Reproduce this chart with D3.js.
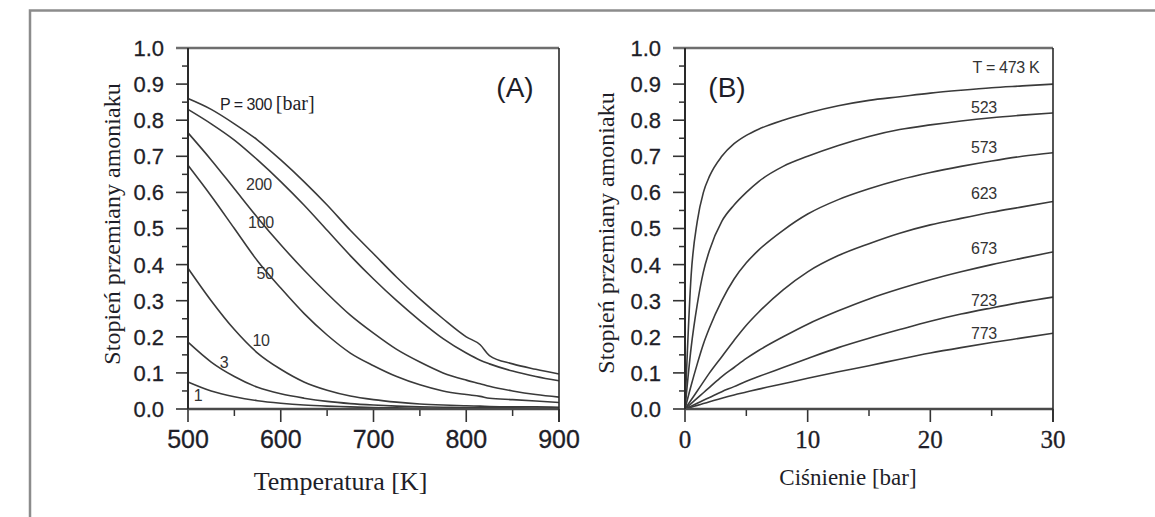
<!DOCTYPE html>
<html>
<head>
<meta charset="utf-8">
<script src="https://cdn.jsdelivr.net/npm/d3@7"></script>
<style>
  body { margin: 0; background: #fff; }
  svg text { fill: #1e1e28; }
</style>
</head>
<body>
<svg id="chart" width="1155" height="517"></svg>
<script>
// Panel A: conversion vs temperature, one curve per pressure
const temperatures = [500, 525, 550, 575, 600, 625, 650, 675, 700, 725, 750, 775, 800, 815, 825, 850, 875, 900];
const conv300 = [0.86, 0.83, 0.79, 0.745, 0.69, 0.63, 0.565, 0.495, 0.43, 0.365, 0.305, 0.25, 0.20, 0.178, 0.148, 0.125, 0.11, 0.097];
const conv200 = [0.83, 0.79, 0.745, 0.69, 0.63, 0.565, 0.495, 0.425, 0.36, 0.30, 0.245, 0.195, 0.155, 0.135, 0.125, 0.105, 0.09, 0.078];
const conv100 = [0.765, 0.69, 0.61, 0.53, 0.455, 0.385, 0.32, 0.26, 0.21, 0.165, 0.13, 0.10, 0.08, 0.07, 0.063, 0.05, 0.04, 0.033];
const conv50  = [0.675, 0.59, 0.50, 0.41, 0.335, 0.265, 0.205, 0.155, 0.12, 0.09, 0.067, 0.05, 0.04, 0.035, 0.03, 0.026, 0.022, 0.018];
const conv10  = [0.39, 0.30, 0.22, 0.155, 0.11, 0.075, 0.052, 0.036, 0.026, 0.019, 0.014, 0.011, 0.009, 0.008, 0.007, 0.006, 0.006, 0.005];
const conv3   = [0.185, 0.13, 0.09, 0.06, 0.042, 0.03, 0.021, 0.015, 0.011, 0.008, 0.006, 0.005, 0.004, 0.004, 0.003, 0.003, 0.002, 0.002];
const conv1   = [0.075, 0.05, 0.034, 0.023, 0.016, 0.011, 0.008, 0.006, 0.004, 0.003, 0.002, 0.002, 0.001, 0.001, 0.001, 0.001, 0.001, 0.001];
const pressureLabels = ["P = 300", "200", "100", "50", "10", "3", "1"];

// Panel B: conversion vs pressure, one curve per temperature
const pressures = [0, 0.5, 1, 1.5, 2, 3, 4, 5, 6, 8, 10, 12.5, 15, 17.5, 20, 22.5, 25, 27.5, 30];
const conv473 = [0, 0.37, 0.52, 0.60, 0.645, 0.70, 0.735, 0.758, 0.775, 0.80, 0.82, 0.84, 0.855, 0.865, 0.875, 0.883, 0.89, 0.895, 0.90];
const conv523 = [0, 0.17, 0.29, 0.38, 0.44, 0.52, 0.565, 0.60, 0.63, 0.672, 0.70, 0.73, 0.755, 0.774, 0.787, 0.798, 0.807, 0.814, 0.82];
const conv573 = [0, 0.065, 0.125, 0.18, 0.225, 0.30, 0.36, 0.405, 0.44, 0.495, 0.54, 0.58, 0.61, 0.635, 0.655, 0.672, 0.687, 0.70, 0.71];
const conv623 = [0, 0.025, 0.05, 0.075, 0.10, 0.145, 0.19, 0.232, 0.268, 0.33, 0.38, 0.425, 0.458, 0.487, 0.51, 0.528, 0.545, 0.56, 0.575];
const conv673 = [0, 0.015, 0.03, 0.045, 0.06, 0.09, 0.115, 0.14, 0.162, 0.20, 0.235, 0.272, 0.305, 0.333, 0.358, 0.38, 0.40, 0.418, 0.435];
const conv723 = [0, 0.008, 0.016, 0.024, 0.032, 0.048, 0.062, 0.077, 0.09, 0.115, 0.14, 0.17, 0.196, 0.22, 0.243, 0.263, 0.28, 0.296, 0.31];
const conv773 = [0, 0.005, 0.01, 0.015, 0.02, 0.03, 0.039, 0.047, 0.055, 0.07, 0.085, 0.103, 0.12, 0.138, 0.155, 0.17, 0.184, 0.197, 0.21];
const temperatureLabels = ["T = 473 K", "523", "573", "623", "673", "723", "773"];

const yTicks = [0, 0.1, 0.2, 0.3, 0.4, 0.5, 0.6, 0.7, 0.8, 0.9, 1.0];

const svg = d3.select("#chart");

// outer page frame (top + left edges only)
svg.append("path")
    .attr("d", "M30,1000 L30,10.5 L1155,10.5")
    .attr("fill", "none")
    .attr("stroke", "#8c8c8c")
    .attr("stroke-width", 2.5);

function drawPanel(opts) {
    const { x, y, xTicks, xMinor, xFont, xFontSize, seriesX, series, labels, labelPos, tag, tagPos, xTitle, xTitleY, xTitleSize, yTitleX, yTitleY } = opts;
    const [x0, x1] = x.range();
    const [y0, y1] = y.range();
    const g = svg.append("g");

    // minor y ticks
    g.selectAll(".ymin").data(d3.range(0.05, 1, 0.1)).join("line")
        .attr("x1", x0 - 6).attr("x2", x0)
        .attr("y1", d => y(d)).attr("y2", d => y(d))
        .attr("stroke", "#333").attr("stroke-width", 1.5);
    // major y ticks
    g.selectAll(".ymaj").data(yTicks).join("line")
        .attr("x1", x0 - 12).attr("x2", x0)
        .attr("y1", d => y(d)).attr("y2", d => y(d))
        .attr("stroke", "#333").attr("stroke-width", 1.6);
    g.selectAll(".ylab").data(yTicks).join("text")
        .attr("x", x0 - 24).attr("y", d => y(d))
        .attr("dy", "0.36em")
        .attr("text-anchor", "end")
        .style("font-family", "'Liberation Sans', Arial, sans-serif")
        .style("font-size", "22px")
        .style("stroke", "#1e1e28").style("stroke-width", 0.3)
        .text(d => d.toFixed(1));

    // x ticks
    g.selectAll(".xmin").data(xMinor).join("line")
        .attr("x1", d => x(d)).attr("x2", d => x(d))
        .attr("y1", y0).attr("y2", y0 + 7)
        .attr("stroke", "#333").attr("stroke-width", 1.5);
    g.selectAll(".xmaj").data(xTicks).join("line")
        .attr("x1", d => x(d)).attr("x2", d => x(d))
        .attr("y1", y0).attr("y2", y0 + 13)
        .attr("stroke", "#333").attr("stroke-width", 1.6);
    g.selectAll(".xlab").data(xTicks).join("text")
        .attr("x", d => x(d)).attr("y", 448)
        .attr("text-anchor", "middle")
        .style("font-family", xFont)
        .style("font-size", xFontSize)
        .style("stroke", "#1e1e28").style("stroke-width", 0.3)
        .text(d => d);

    // curves
    const line = d3.line()
        .x((d, i) => x(seriesX[i]))
        .y(d => y(d))
        .curve(d3.curveMonotoneX);
    g.selectAll(".curve").data(series).join("path")
        .attr("d", line)
        .attr("fill", "none")
        .attr("stroke", "#3a3a3a")
        .attr("stroke-width", 1.6);

    // frame
    g.append("line").attr("x1", x0 - 12).attr("x2", x1).attr("y1", y1).attr("y2", y1)
        .attr("stroke", "#6e6e6e").attr("stroke-width", 2.6);
    g.append("line").attr("x1", x0).attr("x2", x1).attr("y1", y0).attr("y2", y0)
        .attr("stroke", "#4a4a4a").attr("stroke-width", 2.6);
    g.append("line").attr("x1", x0).attr("x2", x0).attr("y1", y1).attr("y2", y0)
        .attr("stroke", "#2a2a2a").attr("stroke-width", 2);
    g.append("line").attr("x1", x1).attr("x2", x1).attr("y1", y1).attr("y2", y0 + 13)
        .attr("stroke", "#2a2a2a").attr("stroke-width", 1.6);

    // curve labels
    g.selectAll(".clab").data(labels).join("text")
        .attr("x", (d, i) => labelPos[i][0])
        .attr("y", (d, i) => labelPos[i][1])
        .attr("dy", "0.36em")
        .attr("text-anchor", "middle")
        .style("font-family", "'Liberation Sans', Arial, sans-serif")
        .style("font-size", "16px")
        .style("letter-spacing", "-0.3px")
        .style("fill", "#333")
        .text(d => d);

    g.append("text")
        .attr("x", tagPos[0]).attr("y", tagPos[1])
        .attr("text-anchor", "middle")
        .style("font-family", "'Liberation Sans', Arial, sans-serif")
        .style("font-size", "28px")
        .text(tag);

    g.append("text")
        .attr("x", (x0 + x1) / 2 + opts.xTitleShift).attr("y", xTitleY)
        .attr("text-anchor", "middle")
        .style("font-family", "'Liberation Serif', 'Times New Roman', serif")
        .style("font-size", xTitleSize)
        .text(xTitle);

    g.append("text")
        .attr("transform", `translate(${yTitleX},${yTitleY}) rotate(-90)`)
        .attr("text-anchor", "middle")
        .attr("dy", "0.35em")
        .style("font-family", "'Liberation Serif', 'Times New Roman', serif")
        .style("font-size", "24px")
        .text("Stopień przemiany amoniaku");
    return g;
}

const yScale = d3.scaleLinear().domain([0, 1]).range([409, 48]);

const xA = d3.scaleLinear().domain([500, 900]).range([188, 559]);
const gA = drawPanel({
    x: xA, y: yScale,
    xTicks: [500, 600, 700, 800, 900],
    xMinor: [550, 650, 750, 850],
    xFont: "'Liberation Sans', Arial, sans-serif", xFontSize: "25px",
    seriesX: temperatures,
    series: [conv300, conv200, conv100, conv50, conv10, conv3, conv1],
    labels: pressureLabels.slice(1),
    labelPos: [[259, 184], [261, 222], [265, 273], [261, 340], [224, 362], [198, 395]],
    tag: "(A)", tagPos: [515, 97],
    xTitle: "Temperatura [K]", xTitleY: 490, xTitleSize: "26px", xTitleShift: -33,
    yTitleX: 112, yTitleY: 224
});
// "P = 300 [bar]" label: sans-serif number, serif unit
const pLab = gA.append("text").attr("x", 220).attr("y", 110);
pLab.append("tspan")
    .style("font-family", "'Liberation Sans', Arial, sans-serif")
    .style("font-size", "16px").style("letter-spacing", "-0.5px")
    .text(pressureLabels[0] + " ");
pLab.append("tspan")
    .style("font-family", "'Liberation Serif', 'Times New Roman', serif")
    .style("font-size", "20px")
    .text("[bar]");

const xB = d3.scaleLinear().domain([0, 30]).range([685, 1053]);
drawPanel({
    x: xB, y: yScale,
    xTicks: [0, 10, 20, 30],
    xMinor: [5, 15, 25],
    xFont: "'Liberation Serif', 'Times New Roman', serif", xFontSize: "25px",
    seriesX: pressures,
    series: [conv473, conv523, conv573, conv623, conv673, conv723, conv773],
    labels: temperatureLabels,
    labelPos: [[1006, 67], [984, 107], [984, 147], [984, 193], [984, 248], [984, 300], [984, 333]],
    tag: "(B)", tagPos: [727, 97],
    xTitle: "Ciśnienie [bar]", xTitleY: 485, xTitleSize: "23px", xTitleShift: -21,
    yTitleX: 606, yTitleY: 233
});
</script>
</body>
</html>
